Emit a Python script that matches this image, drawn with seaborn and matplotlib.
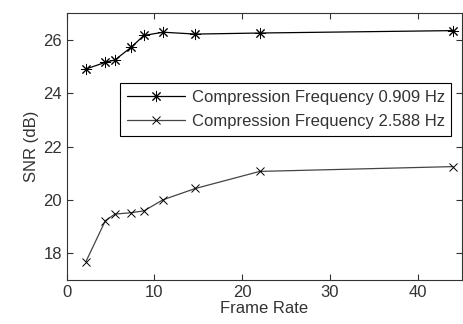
import numpy as np
import pandas as pd
import matplotlib
matplotlib.use("Agg")
import matplotlib.pyplot as plt
import seaborn as sns

# Data
frame_rate = [2.2, 4.4, 5.5, 7.33, 8.8, 11.0, 14.67, 22.0, 44.0]
snr_0909 = [24.91, 25.16, 25.25, 25.72, 26.17, 26.29, 26.22, 26.26, 26.35]
snr_2588 = [17.69, 19.22, 19.47, 19.52, 19.59, 20.01, 20.43, 21.07, 21.25]
labels = ["Compression Frequency 0.909 Hz", "Compression Frequency 2.588 Hz"]

df = pd.DataFrame({
    "Frame Rate": frame_rate * 2,
    "SNR (dB)": snr_0909 + snr_2588,
    "series": [labels[0]] * len(frame_rate) + [labels[1]] * len(frame_rate),
})

sns.set_style("ticks")
plt.rcParams["font.family"] = ["Liberation Sans", "DejaVu Sans"]
plt.rcParams["font.size"] = 12

fig = plt.figure(figsize=(4.63, 3.24), dpi=100)
ax = fig.add_axes([0.144, 0.136, 0.853, 0.823])

styles = {
    labels[0]: dict(color="black", marker=(8, 2, 0), markersize=8),
    labels[1]: dict(color="#444444", marker="x", markersize=6),
}
for lab in labels:
    sub = df[df["series"] == lab]
    st = styles[lab]
    sns.lineplot(data=sub, x="Frame Rate", y="SNR (dB)", ax=ax, label=lab,
                 color=st["color"], marker=st["marker"], markersize=st["markersize"],
                 markeredgecolor="black", markeredgewidth=0.7, linewidth=0.9)

ax.set_xlim(0, 45)
ax.set_ylim(17, 27)
ax.set_xticks([0, 10, 20, 30, 40])
ax.set_yticks([18, 20, 22, 24, 26])
ax.tick_params(direction="in", top=True, right=True, length=4, width=0.8,
               labelsize=12, colors="#333333", labelcolor="#333333")
for s in ax.spines.values():
    s.set_color("#333333")
    s.set_linewidth(0.8)
ax.set_xlabel("Frame Rate", fontsize=12, color="#333333", labelpad=1)
ax.set_ylabel("SNR (dB)", fontsize=12, color="#333333", labelpad=3)

leg = ax.legend(loc="upper left", bbox_to_anchor=(0.135, 0.737), borderaxespad=0,
                frameon=True, fancybox=False, edgecolor="black", framealpha=1,
                fontsize=12, handlelength=3.5, borderpad=0.4, labelspacing=0.55,
                handletextpad=0.4)
leg.get_frame().set_linewidth(0.8)
for t in leg.get_texts():
    t.set_color("#333333")

fig.savefig("out.png", dpi=100)
